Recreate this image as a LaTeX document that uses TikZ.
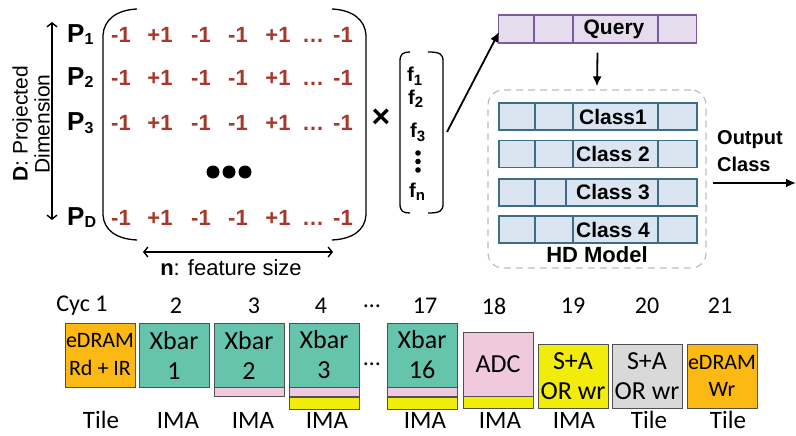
\documentclass[tikz,border=0pt]{standalone}
\usepackage{fontspec}
\setmainfont{Liberation Sans}
\newfontfamily\calfont{Carlito}
\usetikzlibrary{arrows.meta}

\definecolor{matred}{HTML}{A5382B}
\definecolor{qfill}{HTML}{E5DDEE}
\definecolor{qline}{HTML}{7B5AA0}
\definecolor{cfill}{HTML}{DAE5F1}
\definecolor{cline}{HTML}{3C6E84}
\definecolor{edram}{HTML}{FDB913}
\definecolor{xbar}{HTML}{65C4AB}
\definecolor{adc}{HTML}{F0C9DF}
\definecolor{sa}{HTML}{F2EC0B}
\definecolor{tilegray}{HTML}{D9D9D9}
\definecolor{boxline}{HTML}{505050}
\definecolor{hdline}{HTML}{BDBDBD}

% lowered, smaller subscript: shift, size, text
\newcommand{\lsub}[3]{\raisebox{#1}{\fontsize{#2}{#2}\selectfont #3}}

\begin{document}
\begin{tikzpicture}[x=1pt,y=-1pt,
  entry/.style={font=\bfseries\fontsize{22}{24}\selectfont, text=matred, anchor=base, inner sep=0pt},
  plabel/.style={font=\bfseries\fontsize{26}{28}\selectfont, anchor=base west, inner sep=0pt},
  fent/.style={font=\bfseries\fontsize{20}{22}\selectfont, anchor=base west, inner sep=0pt},
  barb/.style={line width=1.4pt, {Straight Barb[length=4pt,width=10pt]}-{Straight Barb[length=4pt,width=10pt]}},
  arr/.style={line width=1.8pt, -{Latex[length=10pt,width=9pt]}},
  hbar/.style={minimum width=198, inner sep=0pt, line width=1.4pt},
  boldlab/.style={font=\bfseries\fontsize{21}{22}\selectfont, inner sep=0pt},
  pbox/.style={draw=boxline, line width=0.9pt, minimum width=70, minimum height=64, inner sep=0pt, align=center, font=\calfont\fontsize{26}{30}\selectfont},
  strip/.style={draw=boxline, line width=0.9pt, minimum width=70, inner sep=0pt, anchor=north},
  cyc/.style={font=\calfont\fontsize{24}{28}\selectfont, inner sep=0pt},
  unit/.style={font=\calfont\fontsize{25}{28}\selectfont, inner sep=0pt}
]
\useasboundingbox (0,0) rectangle (796,436);

% ---------------- projection matrix ----------------
\node[rotate=90, align=center, font=\fontsize{21}{22}\selectfont, inner sep=0pt] (dlab) at (31,124) {\textbf{D}: Projected\\Dimension};
\coordinate (dtop) at (52,22);
\coordinate (dbot) at (52,220);
\draw[barb] (dtop) -- (dbot);

\foreach \yb/\pl [count=\r] in {43/1, 85/2, 131/3, 225/D}{
  \node[plabel] (p\r) at (67,\yb) {P\lsub{-2pt}{16}{\pl}};
  \foreach \xx/\v [count=\c] in {121/-1, 160/+1, 201/-1, 238/-1, 278/+1, 313/\ldots, 343/-1}{
    \node[entry] (m\r\c) at (\xx,\yb) {\v};
  }
}
\fill (213,172) circle (6.5pt);
\fill (229,172) circle (6.5pt);
\fill (245,172) circle (6.5pt);

% matrix brackets
\draw[line width=1.3pt] (137,9) .. controls (116,10) and (104,20) .. (103,35) -- (103,215)
  .. controls (104,230) and (116,239) .. (137,240);
\draw[line width=1.3pt] (332,9) .. controls (353,10) and (365,20) .. (366,35) -- (366,215)
  .. controls (365,230) and (353,239) .. (332,240);

\coordinate (nl) at (143,252);
\coordinate (nr) at (333,252);
\draw[barb] (nl) -- (nr);
\node[font=\fontsize{22}{22}\selectfont, inner sep=0pt] (nlab) at (231,268) {\textbf{n}: feature size};

% ---------------- feature vector ----------------
\node[font=\bfseries\fontsize{32}{32}\selectfont, inner sep=0pt] (times) at (381,118) {×};
\draw[line width=1.3pt] (410,52) .. controls (403,52) and (400,54) .. (400,61) -- (400,204)
  .. controls (400,211) and (403,213) .. (410,213);
\draw[line width=1.3pt] (428,52) .. controls (440,52) and (443,54) .. (443,61) -- (443,204)
  .. controls (443,211) and (440,213) .. (428,213);
\node[fent] (f1) at (407,82) {f\lsub{-3pt}{15}{1}};
\node[fent] (f2) at (408,105) {f\lsub{-3pt}{15}{2}};
\node[fent] (f3) at (410,138) {f\lsub{-3pt}{15}{3}};
\fill (418,153) circle (2.8pt);
\fill (418,161.5) circle (2.8pt);
\fill (418,170) circle (2.8pt);
\node[fent] (fn) at (409,197) {f\lsub{-3pt}{15}{n}};

% ---------------- query and HD model ----------------
\node[hbar, minimum height=28, draw=qline, fill=qfill] (qbar) at (597.5,29) {};
\draw[qline, line width=1.4pt] (534,15) -- (534,43) (573,15) -- (573,43) (658,15) -- (658,43);
\node[boldlab] (qlab) at (614,29) {Query};

\coordinate (fout) at (447,132);
\draw[arr] (fout) -- (499,32);

\node[draw=hdline, line width=1.2pt, dash pattern=on 7pt off 5pt, rounded corners=15pt,
      minimum width=218, minimum height=178, inner sep=0pt] (hd) at (597,179) {};
\draw[arr] ([yshift=-9pt]qbar.south) -- ([yshift=3pt]hd.north);

\foreach \yc/\lab/\sp [count=\k] in {116.5/Class1/573, 154/Class 2/573, 192.5/Class 3/566, 229.5/Class 4/573}{
  \node[hbar, minimum height=27, draw=cline, fill=cfill] (c\k) at (598,\yc) {};
  \draw[cline, line width=1.4pt] (535,\yc-13.5) -- (535,\yc+13.5)
    (\sp,\yc-13.5) -- (\sp,\yc+13.5) (658,\yc-13.5) -- (658,\yc+13.5);
  \node[boldlab] (cl\k) at (613,\yc) {\lab};
}
\node[font=\bfseries\fontsize{22}{22}\selectfont, inner sep=0pt] (hdlab) at (597,255) {HD Model};

\node[align=left, anchor=west, font=\bfseries\fontsize{20}{27}\selectfont, inner sep=0pt] (outlab) at (717,151) {Output\\Class};
\coordinate (outs) at (713,183);
\coordinate (oute) at (796,183);
\draw[arr] (outs) -- (oute);

% ---------------- pipeline ----------------
\node[cyc] (cy1) at (82,306) {Cyc 1};
\foreach \xx/\n in {176/2, 254/3, 321/4, 372/\ldots, 425/17, 494/18, 573/19, 647/20, 720/21}{
  \node[cyc] at (\xx,306) {\n};
}

\node[pbox, fill=edram, font=\calfont\fontsize{22}{28}\selectfont] (e1) at (100,355) {eDRAM\\Rd + IR};
\node[pbox, fill=xbar] (x1) at (174,355) {Xbar\\1};
\node[pbox, fill=xbar] (x2) at (249,355) {Xbar\\2};
\node[strip, fill=adc, minimum height=9] (x2a) at (x2.south) {};
\node[pbox, fill=xbar] (x3) at (324,355) {Xbar\\3};
\node[strip, fill=adc, minimum height=9] (x3a) at (x3.south) {};
\node[strip, fill=sa, minimum height=12] (x3s) at (x3a.south) {};
\node[cyc] (gap) at (372,364) {\ldots};
\node[pbox, fill=xbar] (x16) at (422,355) {Xbar\\16};
\node[strip, fill=adc, minimum height=9] (x16a) at (x16.south) {};
\node[strip, fill=sa, minimum height=12] (x16s) at (x16a.south) {};
\node[pbox, fill=adc] (adc) at (498,364) {ADC};
\node[strip, fill=sa, minimum height=12] (adcs) at (adc.south) {};
\node[pbox, fill=sa] (sa1) at (573,376) {S+A\\OR wr};
\node[pbox, fill=tilegray] (sa2) at (647,376) {S+A\\OR wr};
\node[pbox, fill=edram, font=\calfont\fontsize{22}{27}\selectfont] (e2) at (722,376) {eDRAM\\Wr};

\foreach \xx/\u in {101/Tile, 178/IMA, 253/IMA, 327/IMA, 425/IMA, 500/IMA, 574/IMA, 649/Tile, 728/Tile}{
  \node[unit] at (\xx,420) {\u};
}
\end{tikzpicture}
\end{document}
